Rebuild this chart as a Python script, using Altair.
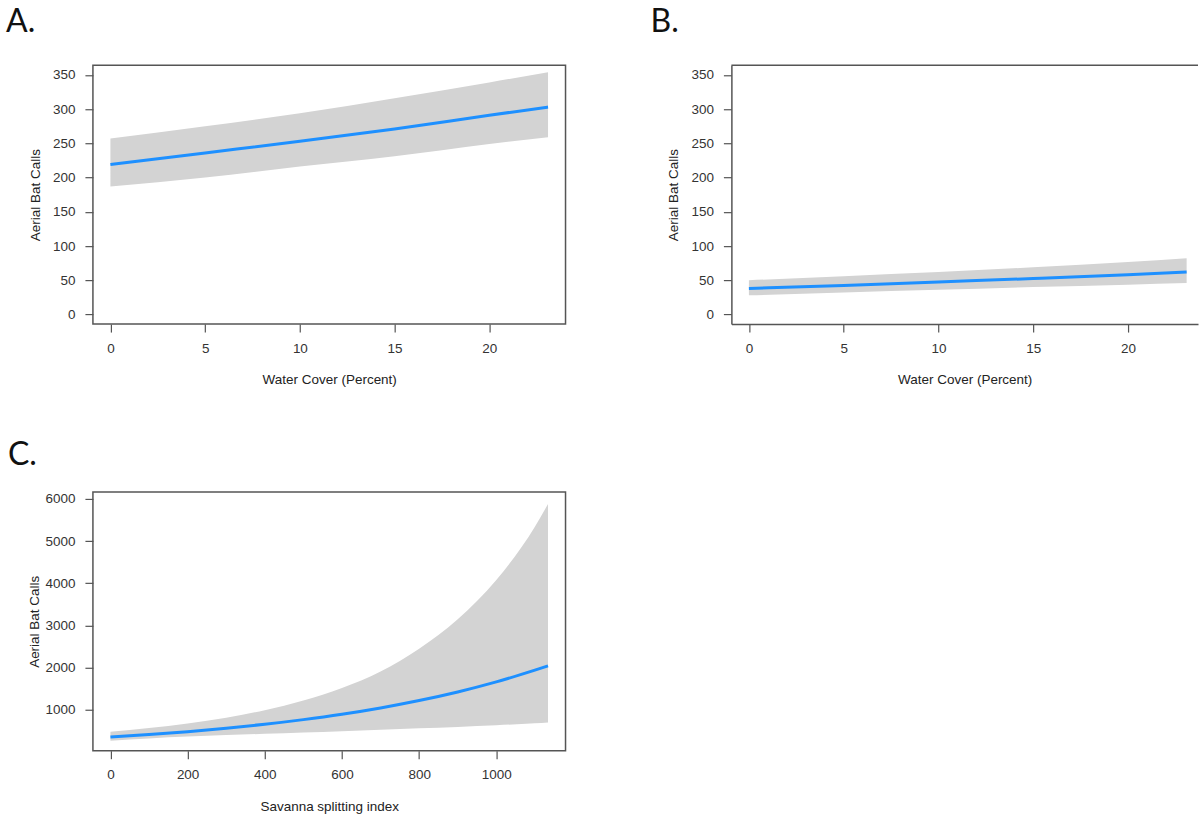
import altair as alt
import pandas as pd

# ---- Panel A: Water cover vs aerial bat calls ----
A_x = [0, 5, 10, 15, 20, 23.1]
A_fit = [219, 236, 253, 271, 291, 303]
A_upper = [257, 275, 294, 316, 339, 354]
A_lower = [187, 200, 216, 231, 249, 259]

# ---- Panel B ----
B_x = [0, 5, 10, 15, 20, 23.1]
B_fit = [38, 42.5, 47.5, 52.5, 58, 62]
B_upper = [50, 56, 62, 69, 76.5, 82]
B_lower = [28, 32, 36, 40, 43.5, 46]

# ---- Panel C: Savanna splitting index ----
C_x = [0, 100, 200, 300, 400, 500, 600, 700, 800, 900, 1000, 1100, 1134]
C_fit = [354, 413, 482, 563, 657, 767, 895, 1045, 1220, 1424, 1662, 1940, 2040]
C_upper = [480, 566, 675, 814, 991, 1221, 1519, 1911, 2450, 3150, 4080, 5340, 5880]
C_lower = [268, 322, 365, 400, 432, 463, 494, 526, 560, 595, 635, 680, 700]

water_ticks = [0, 5, 10, 15, 20]
calls_ticks = [0, 50, 100, 150, 200, 250, 300, 350]
split_ticks = [0, 200, 400, 600, 800, 1000]
calls_ticks_c = [1000, 2000, 3000, 4000, 5000, 6000]

BOX = "#555555"
BAND = "#D3D3D3"
LINE = "#1E90FF"


def panel(xs, fit, lo, hi, xdom, ydom, xvals, yvals, w, h, xtitle,
          letter, dx, offset, ytitlepad, boxed=True):
    df = pd.DataFrame({"x": xs, "fit": fit, "lo": lo, "hi": hi})
    xscale = alt.Scale(domain=xdom, nice=False, zero=False)
    xaxis = alt.Axis(values=xvals, title=xtitle, grid=False,
                     domain=not boxed, domainColor=BOX, domainWidth=1.5,
                     tickSize=8, labelPadding=9, titlePadding=18,
                     format="d")
    yscale = alt.Scale(domain=ydom, nice=False, zero=False)
    yaxis = alt.Axis(values=yvals, title="Aerial Bat Calls", grid=False,
                     domain=not boxed, domainColor=BOX, domainWidth=1.5,
                     tickSize=8, labelPadding=10, titlePadding=ytitlepad,
                     format="d")
    band = alt.Chart(df).mark_area(color=BAND, opacity=1,
                                   interpolate="monotone").encode(
        x=alt.X("x:Q", scale=xscale, axis=xaxis),
        y=alt.Y("lo:Q", scale=yscale, axis=yaxis),
        y2="hi:Q",
    )
    line = alt.Chart(df).mark_line(color=LINE, strokeWidth=3,
                                   interpolate="monotone").encode(
        x=alt.X("x:Q", scale=xscale, axis=xaxis),
        y=alt.Y("fit:Q", scale=yscale, axis=yaxis),
    )
    layers = [band, line]
    if not boxed:
        top = alt.Chart(pd.DataFrame({"a": [0]})).mark_rule(
            color=BOX, strokeWidth=1.5).encode(
            y=alt.value(0), x=alt.value(0), x2=alt.value(w))
        layers.append(top)
    ch = alt.layer(*layers).properties(
        width=w, height=h,
        title=alt.TitleParams(letter, anchor="start", frame="group", dx=dx,
                              offset=offset, baseline="alphabetic"),
    )
    if not boxed:
        ch = ch.properties(view=alt.ViewBackground(stroke=None))
    return ch


A = panel(A_x, A_fit, A_lower, A_upper, [-0.924, 24.024], [-14, 364],
          water_ticks, calls_ticks, 473, 259, "Water Cover (Percent)",
          "A.", -87, 1, 10)
B = panel(B_x, B_fit, B_lower, B_upper, [-0.924, 23.70], [-14, 364],
          water_ticks, calls_ticks, 467, 259, "Water Cover (Percent)",
          "B.", -81, 1, 10, boxed=False)
C = panel(C_x, C_fit, C_lower, C_upper, [-45.4, 1179.4], [30, 6166],
          split_ticks, calls_ticks_c, 473, 259, "Savanna splitting index",
          "C.", -85, -5, 3)

chart = alt.concat(A, B, C, columns=2,
                   spacing={"row": 168, "column": 166},
                   bounds="flush").properties(
    padding={"left": 5, "top": 5, "right": 0, "bottom": 0},
    background="white",
).configure_view(
    stroke=BOX, strokeWidth=1.5
).configure_axis(
    labelFont="Liberation Sans", labelFontSize=13.5, labelColor="#333333",
    titleFont="Liberation Sans", titleFontSize=13.5, titleFontWeight="normal",
    titleColor="#222222", tickColor=BOX, tickWidth=1.2,
).configure_title(
    font="Lato", fontSize=32, fontWeight="normal", color="#111111",
)

chart.save("out.html", embed_options={"renderer": "svg", "actions": False})
